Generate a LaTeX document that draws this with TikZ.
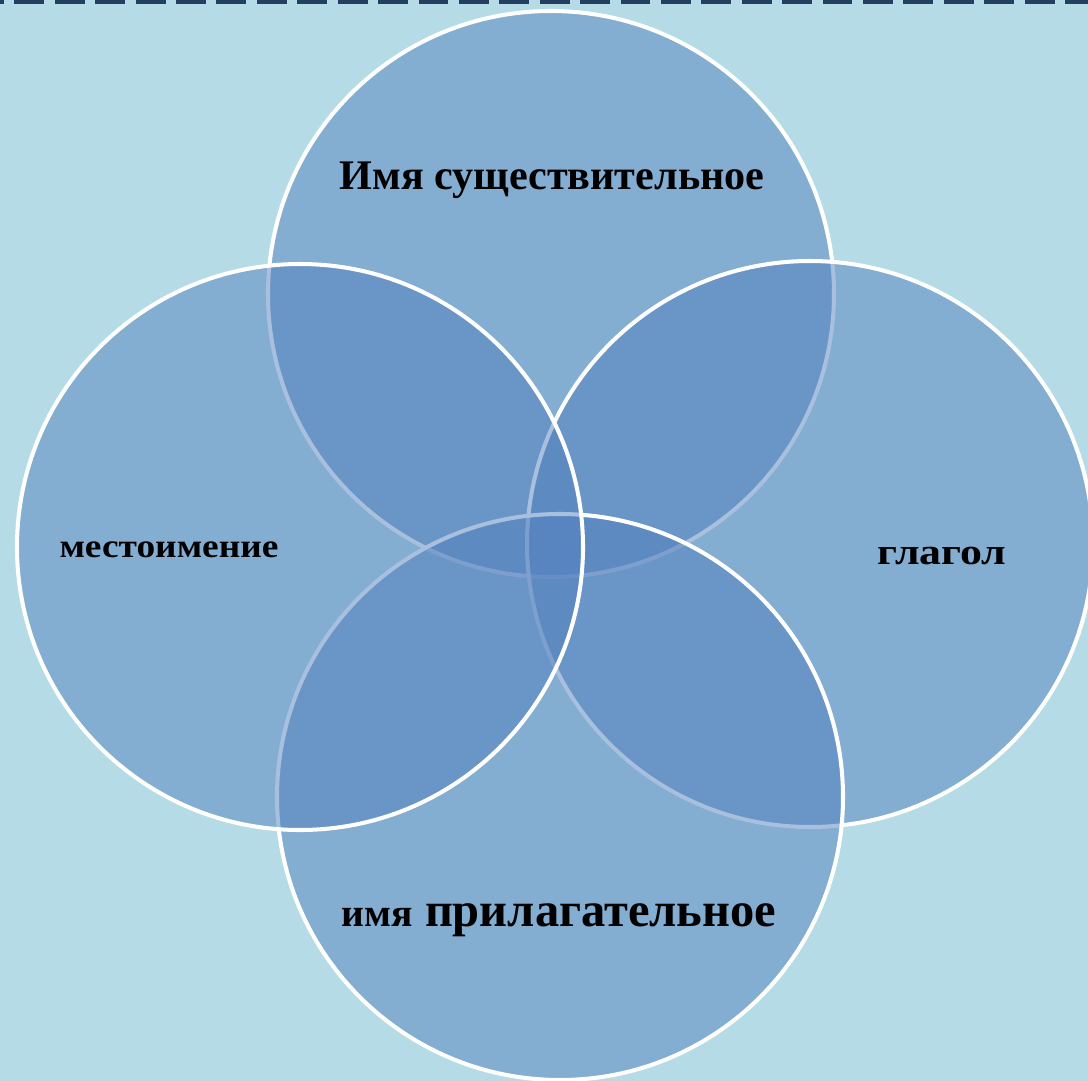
\documentclass[tikz,border=0pt]{standalone}
\usepackage{fontspec}
\setmainfont{Liberation Serif}
\definecolor{paper}{HTML}{B5DCE6}
\definecolor{ring}{HTML}{5380BE}
\definecolor{rule}{HTML}{243F60}
\newcommand{\wide}[2]{\scalebox{#1}[1]{#2}}
\begin{document}
\begin{tikzpicture}[
		x=0.02cm, y=-0.02cm,
		part/.style={fill=ring, fill opacity=0.5, draw=white, draw opacity=1, line width=2.3pt},
		every node/.style={font=\bfseries, text=black, inner sep=0pt},
		big/.style={font=\fontsize{24}{28}\selectfont\bfseries},
		small/.style={font=\fontsize{19}{22}\selectfont\bfseries},
		mid/.style={font=\fontsize{21}{24}\selectfont\bfseries}
	]
	% page
	\fill[paper] (0,0) rectangle (1088,1081);
	\useasboundingbox (0,0) rectangle (1088,1081);
	\draw[rule, line width=2.4pt, dash pattern=on 17pt off 6pt] (-26,2) -- (1100,2);
	% four parts of speech
	\draw[part] (551,294) circle (283);
	\draw[part] (810,544) circle (283);
	\draw[part] (560,797) circle (283);
	\draw[part] (300,547) circle (283);
	\node[big] (noun) at (552,180) {Имя существительное};
	\node[mid] (verb) at (942,556) {\wide{1.19}{глагол}};
	\node[big, font=\fontsize{27.6}{31}\selectfont\bfseries] (adj) at (559,920)
		{{\fontsize{22.5}{26}\selectfont имя} прилагательное};
	\node[small] (pron) at (169,550) {\wide{1.12}{местоимение}};
\end{tikzpicture}
\end{document}
